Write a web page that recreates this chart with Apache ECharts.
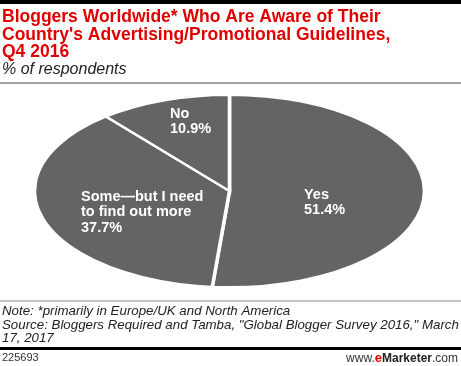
<!DOCTYPE html>
<html><head><meta charset="utf-8">
<script src="https://cdn.jsdelivr.net/npm/echarts@6/dist/echarts.min.js"></script>
<style>html,body{margin:0;padding:0;background:#fff}#c{width:461px;height:366px}</style>
</head><body><div id="c"></div>
<script>
var categories = ['Yes', 'Some\u2014but I need\nto find out more', 'No'];
var values = [51.4, 37.7, 10.9];
var valueLabels = ['51.4%', '37.7%', '10.9%'];

var chart = echarts.init(document.getElementById('c'), null, {renderer: 'canvas'});
var total = values.reduce(function (s, v) { return s + v; }, 0);
var starts = [];
(function () { var acc = 0; for (var i = 0; i < values.length; i++) { starts.push(acc); acc += values[i]; } })();

var CX = 229.5, CY = 191, RX = 195, RY = 96, R0 = 100;
var labelPos = [[304, 187], [81, 189], [170, 106]];

function renderItem(params, api) {
  var i = params.dataIndex;
  var v = api.value(0);
  var sa = -Math.PI / 2 + starts[i] / total * Math.PI * 2;
  var ea = sa + v / total * Math.PI * 2;
  return {
    type: 'group',
    children: [{
      type: 'sector',
      x: CX, y: CY, scaleX: RX / R0, scaleY: RY / R0,
      shape: {cx: 0, cy: 0, r0: 0, r: R0, startAngle: sa, endAngle: ea, clockwise: true},
      style: {fill: '#646464', stroke: '#ffffff', lineWidth: 2.5, strokeNoScale: true}
    }, {
      type: 'text',
      x: labelPos[i][0], y: labelPos[i][1],
      style: {
        text: categories[i] + '\n' + valueLabels[i],
        fill: '#ffffff', font: 'bold 14.5px "Liberation Sans", Arial, sans-serif',
        lineHeight: 15.5, align: 'left', verticalAlign: 'top'
      }
    }]
  };
}

var titleFont = 'bold 17.5px "Liberation Sans", Arial, sans-serif';
chart.setOption({
  animation: false,
  series: [{
    type: 'custom', coordinateSystem: 'none', renderItem: renderItem,
    data: values.map(function (v) { return [v]; })
  }],
  graphic: [
    {type: 'rect', shape: {x: 0, y: 0, width: 461, height: 4}, style: {fill: '#000'}},
    {type: 'text', x: 2, y: 8, style: {text: "Bloggers Worldwide* Who Are Aware of Their\nCountry's Advertising/Promotional Guidelines,\nQ4 2016", fill: '#e00000', font: titleFont, lineHeight: 17.8}},
    {type: 'text', x: 2, y: 62, style: {text: '% of respondents', fill: '#222', font: 'italic 16px "Liberation Sans", Arial, sans-serif'}},
    {type: 'rect', shape: {x: 0, y: 82.5, width: 461, height: 1}, style: {fill: '#444'}},
    {type: 'rect', shape: {x: 0, y: 300.5, width: 461, height: 1}, style: {fill: '#888'}},
    {type: 'text', x: 2, y: 305, style: {text: 'Note: *primarily in Europe/UK and North America\nSource: Bloggers Required and Tamba, "Global Blogger Survey 2016," March\n17, 2017', fill: '#222', font: 'italic 13.3px "Liberation Sans", Arial, sans-serif', lineHeight: 13.5}},
    {type: 'rect', shape: {x: 0, y: 347, width: 461, height: 3}, style: {fill: '#000'}},
    {type: 'text', x: 2, y: 352, style: {text: '225693', fill: '#333', font: '11px "Liberation Sans", Arial, sans-serif'}},
    {type: 'text', x: 458, y: 352, style: {
      text: '{w|www.}{e|e}{m|Marketer}{w|.com}', align: 'right',
      rich: {
        w: {fill: '#333', font: '12px "Liberation Sans", Arial, sans-serif'},
        e: {fill: '#e00000', font: 'bold 13px "Liberation Sans", Arial, sans-serif'},
        m: {fill: '#222', font: 'bold 12px "Liberation Sans", Arial, sans-serif'}
      }
    }}
  ]
});
</script></body></html>
